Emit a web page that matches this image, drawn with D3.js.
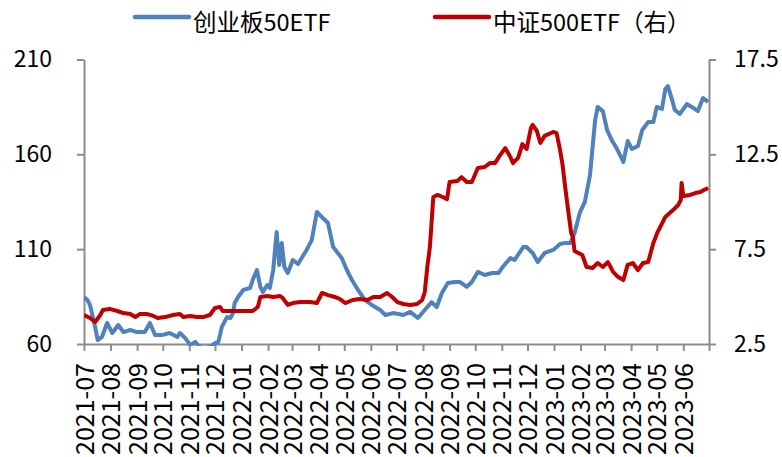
<!DOCTYPE html>
<html>
<head>
<meta charset="utf-8">
<script src="https://cdn.jsdelivr.net/npm/d3@7"></script>
<style>
body { margin: 0; background: #fff; }
text { font-family: "Noto Sans CJK SC", "Noto Sans", sans-serif; fill: #000; }
</style>
</head>
<body>
<script>

var width = 782;
var height = 457;

// 创业板50ETF (left axis)
var cyDates = ["2021-07-01","2021-07-05","2021-07-08","2021-07-14","2021-07-17","2021-07-22","2021-07-28",
"2021-08-03","2021-08-10","2021-08-16","2021-08-24","2021-09-01","2021-09-10","2021-09-16","2021-09-22",
"2021-09-30","2021-10-09","2021-10-18","2021-10-21","2021-10-27","2021-11-02","2021-11-08","2021-11-13",
"2021-11-19","2021-11-25","2021-12-01","2021-12-05","2021-12-09","2021-12-15","2021-12-19","2021-12-22",
"2021-12-24","2021-12-28","2022-01-03","2022-01-11","2022-01-14","2022-01-19","2022-01-23","2022-01-26",
"2022-01-31","2022-02-03","2022-02-07","2022-02-11","2022-02-14","2022-02-17","2022-02-20","2022-02-24",
"2022-03-02","2022-03-08","2022-03-18","2022-03-24","2022-03-30","2022-04-06","2022-04-12","2022-04-18",
"2022-04-28","2022-05-04","2022-05-10","2022-05-17","2022-05-25","2022-06-02","2022-06-12","2022-06-18",
"2022-06-27","2022-07-09","2022-07-17","2022-07-26","2022-08-03","2022-08-11","2022-08-17","2022-08-23",
"2022-08-30","2022-09-07","2022-09-13","2022-09-21","2022-09-27","2022-10-04","2022-10-12","2022-10-21",
"2022-10-28","2022-11-02","2022-11-11","2022-11-16","2022-11-26","2022-11-30","2022-12-07","2022-12-13",
"2022-12-21","2022-12-31","2023-01-08","2023-01-14","2023-01-20","2023-01-25","2023-01-31","2023-02-06",
"2023-02-12","2023-02-18","2023-02-21","2023-02-27","2023-03-04","2023-03-10","2023-03-15","2023-03-23",
"2023-03-28","2023-04-02","2023-04-09","2023-04-14","2023-04-21","2023-04-27","2023-05-01","2023-05-07",
"2023-05-11","2023-05-14","2023-05-19","2023-05-22","2023-05-28","2023-06-05","2023-06-11","2023-06-18",
"2023-06-24","2023-06-30"];
var cyValues = [84.8,83.2,80.6,69.0,62.1,63.7,71.1,
65.8,70.0,66.3,67.4,66.3,66.3,71.1,64.7,
64.7,65.8,63.7,65.8,63.2,59.5,61.1,58.4,
57.9,58.4,60.5,61.1,69.0,74.2,73.7,76.3,
81.6,84.8,88.5,89.5,93.7,99.0,90.1,87.4,
91.1,89.5,99.0,119.0,101.7,113.3,100.6,97.4,
104.3,102.2,109.6,114.8,129.6,126.4,123.8,111.1,
105.3,99.0,93.7,88.5,83.2,80.6,77.9,75.3,
76.3,75.3,76.9,73.7,77.9,82.1,79.5,86.9,
92.2,92.7,92.7,90.1,92.7,98.0,96.4,97.4,
97.4,100.6,105.3,104.3,111.1,111.1,108.0,103.2,
108.0,109.6,112.7,113.3,113.3,118.5,129.1,134.9,
149.1,178.1,185.0,182.8,172.8,167.0,163.3,156.0,
167.0,162.8,164.4,172.8,177.0,177.0,185.0,183.9,
194.4,196.0,188.6,183.4,181.3,186.5,185.0,182.8,
189.7,187.6];

// 中证500ETF (right axis)
var zzDates = ["2021-07-01","2021-07-08","2021-07-14","2021-07-20","2021-07-23","2021-07-31","2021-08-09",
"2021-08-16","2021-08-24","2021-08-30","2021-09-04","2021-09-13","2021-09-20","2021-09-25","2021-10-04",
"2021-10-13","2021-10-21","2021-10-25","2021-11-02","2021-11-10","2021-11-17","2021-11-25","2021-12-01",
"2021-12-07","2021-12-10","2021-12-22","2022-01-03","2022-01-14","2022-01-20","2022-01-23","2022-01-31",
"2022-02-07","2022-02-15","2022-02-18","2022-02-24","2022-03-02","2022-03-10","2022-03-22","2022-03-30",
"2022-04-05","2022-04-12","2022-04-20","2022-04-26","2022-05-02","2022-05-11","2022-05-19","2022-05-28",
"2022-06-04","2022-06-12","2022-06-20","2022-06-26","2022-07-02","2022-07-09","2022-07-17","2022-07-25",
"2022-07-31","2022-08-03","2022-08-06","2022-08-09","2022-08-13","2022-08-18","2022-08-24","2022-08-29",
"2022-09-01","2022-09-10","2022-09-15","2022-09-21","2022-09-27","2022-10-04","2022-10-12","2022-10-18",
"2022-10-24","2022-10-30","2022-11-05","2022-11-11","2022-11-14","2022-11-20","2022-11-25","2022-11-30",
"2022-12-05","2022-12-07","2022-12-12","2022-12-16","2022-12-21","2022-12-31","2023-01-04","2023-01-08",
"2023-01-11","2023-01-14","2023-01-17","2023-01-21","2023-01-23","2023-01-25","2023-02-03","2023-02-08",
"2023-02-15","2023-02-21","2023-02-27","2023-03-05","2023-03-11","2023-03-17","2023-03-23","2023-03-28",
"2023-04-03","2023-04-09","2023-04-15","2023-04-21","2023-04-27","2023-05-02","2023-05-11","2023-05-20",
"2023-05-26","2023-05-29","2023-05-30","2023-06-01","2023-06-09","2023-06-15","2023-06-21","2023-06-25",
"2023-06-30"];
var zzValues = [4.03,3.87,3.66,4.03,4.29,4.35,4.24,
4.13,4.08,3.92,4.08,4.08,3.98,3.87,3.92,
4.03,4.08,3.92,3.98,3.92,3.92,4.03,4.40,
4.45,4.24,4.24,4.24,4.24,4.45,4.98,5.03,
4.98,5.03,4.93,4.56,4.66,4.71,4.71,4.66,
5.19,5.08,4.98,4.87,4.66,4.82,4.87,4.82,
4.98,4.98,5.19,4.98,4.71,4.61,4.56,4.61,
4.82,5.24,6.56,7.61,10.25,10.36,10.25,10.14,
11.04,11.09,11.30,11.04,11.04,11.78,11.83,12.04,
12.04,12.46,12.83,12.36,12.04,12.31,13.04,12.78,
13.89,14.05,13.73,13.10,13.47,13.68,13.62,12.73,
11.94,10.78,9.72,8.35,8.14,7.40,7.19,6.56,
6.51,6.77,6.56,6.82,6.30,6.03,5.87,6.67,
6.77,6.40,6.77,6.82,7.83,8.40,9.20,9.56,
9.83,10.09,10.99,10.30,10.36,10.46,10.51,10.62,
10.72];

var leftTicks = [60, 110, 160, 210];
var rightTicks = [2.5, 7.5, 12.5, 17.5];
var legendNames = ["创业板50ETF", "中证500ETF（右）"];
var colors = ["#4f81bd", "#c00000"];

var plotLeft = 84, plotRight = 709, plotTop = 59.5, plotBottom = 344;
var axisColor = "#8c8c8c";

var parse = d3.timeParse("%Y-%m-%d");
var cyData = cyDates.map(function(d, i){ return {date: parse(d), value: cyValues[i]}; });
var zzData = zzDates.map(function(d, i){ return {date: parse(d), value: zzValues[i]}; });

var x = d3.scaleTime()
.domain([parse("2021-07-01"), parse("2023-07-01")])
.range([plotLeft, plotRight]);

var yLeft = d3.scaleLinear().domain([60, 210]).range([plotBottom, plotTop]);
var yRight = d3.scaleLinear().domain([2.5, 17.5]).range([plotBottom, plotTop]);

var svg = d3.select("body")
.append("svg")
.attr("width", width)
.attr("height", height)
.attr("id", "svg");

svg.append("defs").append("clipPath")
.attr("id", "plotClip")
.append("rect")
.attr("x", plotLeft)
.attr("y", 0)
.attr("width", plotRight - plotLeft)
.attr("height", plotBottom + 2);

//axes
var monthTicks = d3.timeMonth.range(parse("2021-07-01"), parse("2023-07-02"));
var fmt = d3.timeFormat("%Y-%m");

var xAxis = svg.append("g")
.attr("transform", "translate(0," + plotBottom + ")")
.call(d3.axisBottom(x).tickValues(monthTicks).tickSize(7).tickSizeOuter(0)
    .tickFormat(function(d, i){ return i < monthTicks.length - 1 ? fmt(d) : ""; }));

xAxis.selectAll("text")
.attr("transform", "rotate(-90)")
.attr("text-anchor", "end")
.attr("x", -19)
.attr("y", 0)
.attr("dy", "0.36em")
.style("font-size", "25px");

var leftAxis = svg.append("g")
.attr("transform", "translate(" + plotLeft + ",0)")
.call(d3.axisLeft(yLeft).tickValues(leftTicks).tickSize(7).tickPadding(25).tickSizeOuter(0));

var rightAxis = svg.append("g")
.attr("transform", "translate(" + plotRight + ",0)")
.call(d3.axisRight(yRight).tickValues(rightTicks).tickSize(7).tickPadding(18).tickSizeOuter(0)
    .tickFormat(d3.format(".1f")));

[xAxis, leftAxis, rightAxis].forEach(function(a){
    a.select(".domain").attr("stroke", axisColor).attr("stroke-width", 2);
    a.selectAll(".tick line").attr("stroke", axisColor).attr("stroke-width", 2);
    a.selectAll("text").attr("fill", "#000").style("font-family", "'Noto Sans CJK SC', sans-serif");
});
leftAxis.selectAll("text").style("font-size", "23px");
rightAxis.selectAll("text").style("font-size", "23px");

//lines
var lineLeft = d3.line()
.x(function(d){ return x(d.date); })
.y(function(d){ return yLeft(d.value); });

var lineRight = d3.line()
.x(function(d){ return x(d.date); })
.y(function(d){ return yRight(d.value); });

var lines = svg.append("g").attr("clip-path", "url(#plotClip)");

lines.append("path")
.datum(cyData)
.attr("d", lineLeft)
.attr("fill", "none")
.attr("stroke", colors[0])
.attr("stroke-width", 4)
.attr("stroke-linejoin", "round");

lines.append("path")
.datum(zzData)
.attr("d", lineRight)
.attr("fill", "none")
.attr("stroke", colors[1])
.attr("stroke-width", 4)
.attr("stroke-linejoin", "round");

//legend
var legendX = [135, 435];
var legend = svg.append("g");
legendNames.forEach(function(name, i){
    legend.append("line")
    .attr("x1", legendX[i])
    .attr("x2", legendX[i] + 54)
    .attr("y1", 17)
    .attr("y2", 17)
    .attr("stroke", colors[i])
    .attr("stroke-width", 4.5)
    .attr("stroke-linecap", "round");
    legend.append("text")
    .attr("x", legendX[i] + 58)
    .attr("y", 31)
    .style("font-size", "23.5px")
    .text(name);
});

</script>
</body>
</html>
